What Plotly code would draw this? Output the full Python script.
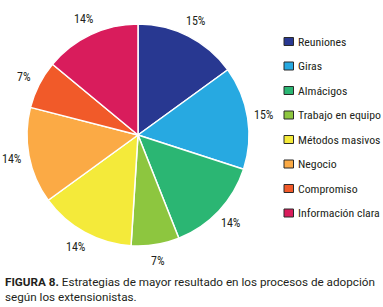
import math
import plotly.graph_objects as go

categories = ["Reuniones", "Giras", "Almácigos", "Trabajo en equipo",
              "Métodos masivos", "Negocio", "Compromiso", "Información clara"]
values = [15, 15, 14, 7, 14, 14, 7, 14]
colors = ["#283891", "#27A9E1", "#2BB673", "#8DC63F",
          "#F4EA3A", "#FBAA45", "#F15A29", "#D91C5C"]

W, H = 383, 307
FONT = "Roboto Condensed, DejaVu Sans Condensed, sans-serif"
CAPFONT = "Roboto, sans-serif"
TXT = "#231f20"

CX, CY, R = 138, 135, 111  # pie centre / radius in px
fig = go.Figure(go.Pie(
    labels=categories, values=values, sort=False, direction="clockwise",
    rotation=0, marker=dict(colors=colors, line=dict(color="white", width=1.5)),
    textinfo="none", showlegend=False, hoverinfo="label+value",
    domain=dict(x=[(CX - R) / W, (CX + R) / W], y=[1 - (CY + R) / H, 1 - (CY - R) / H]),
))

shapes, annotations = [], []

# percentage labels placed around the pie from the values
total = sum(values)
cum = 0
RL = 128
for v in values:
    mid = (cum + v / 2) / total * 2 * math.pi
    cum += v
    x = CX + RL * math.sin(mid)
    y = CY - RL * math.cos(mid)
    annotations.append(dict(xref="paper", yref="paper", x=x / W, y=1 - y / H,
                            text=f"{v}%", showarrow=False, xanchor="center", yanchor="middle",
                            font=dict(family=FONT, size=12, color=TXT)))

# legend drawn from the category / colour lists
y0 = 41.5
step = 24.5
for i, (c, col) in enumerate(zip(categories, colors)):
    yc = y0 + i * step
    shapes.append(dict(type="rect", xref="paper", yref="paper",
                       x0=284 / W, x1=293.5 / W,
                       y0=1 - (yc + 4) / H, y1=1 - (yc - 4) / H,
                       fillcolor=col, line=dict(color="#2a2a2a", width=1)))
    annotations.append(dict(xref="paper", yref="paper", x=296 / W, y=1 - yc / H,
                            text=c, showarrow=False, xanchor="left", yanchor="middle",
                            font=dict(family=FONT, size=11.8, color=TXT)))

annotations.append(dict(xref="paper", yref="paper", x=3 / W, y=1 - 273 / H,
                        text="<b>FIGURA 8.</b> Estrategias de mayor resultado en los procesos de adopción<br>según los extensionistas.",
                        showarrow=False, xanchor="left", yanchor="top", align="left",
                        font=dict(family=CAPFONT, size=11.7, color=TXT)))

fig.update_layout(width=W, height=H, margin=dict(l=0, r=0, t=0, b=0),
                  paper_bgcolor="white", plot_bgcolor="white",
                  shapes=shapes, annotations=annotations)
fig.write_html("out.html", config={"displayModeBar": False},
               post_script="document.body.style.margin='0';document.body.style.overflow='hidden';")
